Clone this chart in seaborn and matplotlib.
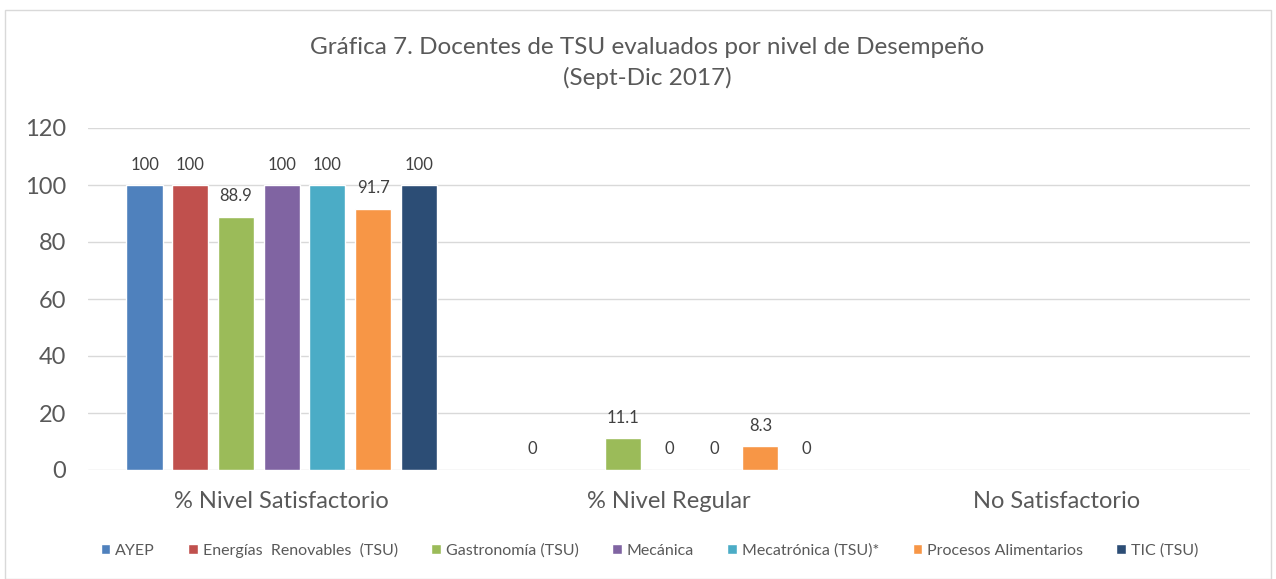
import numpy as np
import pandas as pd
import matplotlib
matplotlib.use("Agg")
import matplotlib.pyplot as plt
from matplotlib.patches import Rectangle
import seaborn as sns

categories = ["% Nivel Satisfactorio", "% Nivel Regular", "No Satisfactorio"]
series = ["AYEP", "Energías  Renovables  (TSU)", "Gastronomía (TSU)", "Mecánica",
          "Mecatrónica (TSU)*", "Procesos Alimentarios", "TIC (TSU)"]
satisfactorio = [100, 100, 88.9, 100, 100, 91.7, 100]
regular = [0, np.nan, 11.1, 0, 0, 8.3, 0]
no_satisf = [np.nan] * 7
colors = ["#4F81BD", "#C0504D", "#9BBB59", "#8064A2", "#4BACC6", "#F79646", "#2C4D75"]
yticks = [0, 20, 40, 60, 80, 100, 120]

rows = []
for cat, vals in zip(categories, [satisfactorio, regular, no_satisf]):
    for s, v in zip(series, vals):
        rows.append({"cat": cat, "serie": s, "val": v})
df = pd.DataFrame(rows)

sns.set_theme(style="white")
plt.rcParams["font.family"] = ["Lato", "DejaVu Sans"]
txt = "#595959"

fig = plt.figure(figsize=(12.76, 5.79), dpi=100)
ax = fig.add_axes([88/1276, 1-470/579, (1250-88)/1276, (470-128)/579])

sns.barplot(data=df.dropna(), x="cat", y="val", hue="serie", order=categories,
            hue_order=series, palette=colors, width=0.826, gap=0.21,
            saturation=1, ax=ax, legend=True, errorbar=None)

for cont in ax.containers:
    ax.bar_label(cont, fmt="{:g}", padding=9, fontsize=12, color="#404040")

ax.set_ylim(0, 120)
ax.set_xlim(-0.5, 2.5)
ax.set_yticks(yticks)
ax.yaxis.grid(True, color="#D9D9D9", linewidth=1)
ax.set_axisbelow(True)
for sp in ax.spines.values():
    sp.set_visible(False)
ax.tick_params(axis="y", labelsize=17, labelcolor=txt, length=0, pad=16)
ax.tick_params(axis="x", labelsize=17, labelcolor=txt, length=0, pad=15)
ax.set_xlabel("")
ax.set_ylabel("")

handles, labels = ax.get_legend_handles_labels()
ax.get_legend().remove()
fig.legend(handles, labels, loc="center", bbox_to_anchor=(0.509, 1 - 550/579),
           ncol=7, frameon=False, fontsize=11.5, handlelength=0.6, handleheight=0.6,
           handletextpad=0.3, columnspacing=2.1, labelcolor=txt)

fig.text(0.507, 1-47/579, "Gráfica 7. Docentes de TSU evaluados por nivel de Desempeño",
         ha="center", va="center", fontsize=17.5, color=txt)
fig.text(0.507, 1-78/579, "(Sept-Dic 2017)", ha="center", va="center", fontsize=17.5, color=txt)

fig.patches.append(Rectangle((5/1276, 0), 1-10/1276, 1-10/579, transform=fig.transFigure,
                             fill=False, edgecolor="#D9D9D9", linewidth=1))

fig.savefig("out.png", dpi=100)
